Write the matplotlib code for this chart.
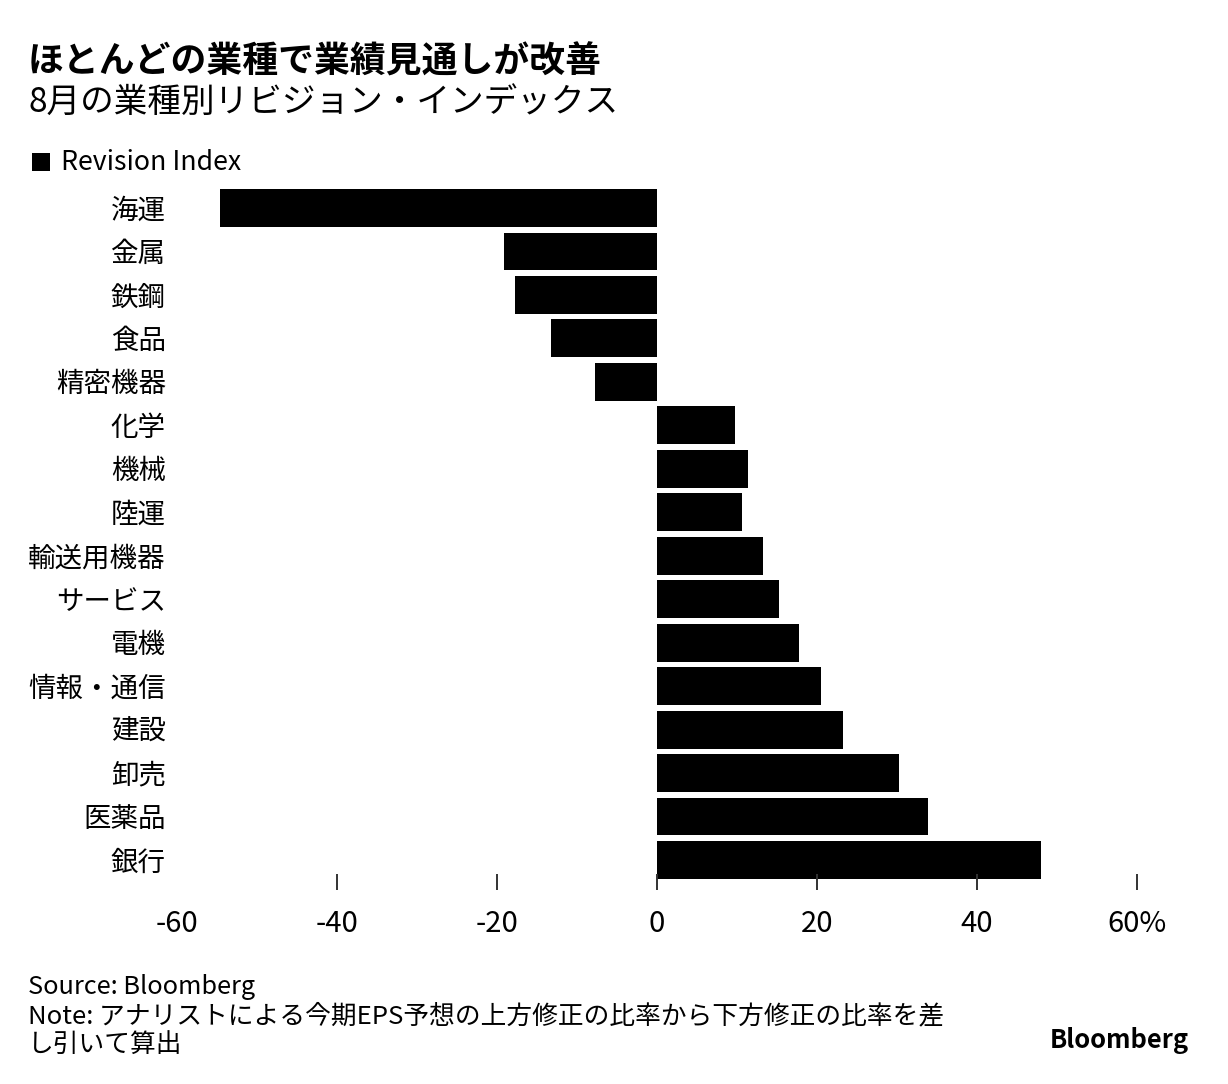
import matplotlib
matplotlib.use("Agg")
import matplotlib.pyplot as plt
from matplotlib.patches import Rectangle

plt.rcParams["font.family"] = ["Noto Sans CJK JP", "DejaVu Sans"]

# data
sectors = [
    "海運", "金属", "鉄鋼", "食品", "精密機器", "化学", "機械", "陸運",
    "輸送用機器", "サービス", "電機", "情報・通信", "建設", "卸売", "医薬品", "銀行",
]
revision_index = [
    -54.6, -19.1, -17.7, -13.2, -7.7, 9.8, 11.4, 10.6,
    13.2, 15.2, 17.7, 20.5, 23.3, 30.3, 33.9, 48.0,
]
x_ticks = [-60, -40, -20, 0, 20, 40, 60]
x_tick_labels = ["-60", "-40", "-20", "0", "20", "40", "60%"]

W, H = 1228, 1084
fig = plt.figure(figsize=(W / 100, H / 100), dpi=100)


def fx(px):
    return px / W


def fy(py):
    return 1 - py / H


ax_left, ax_right = 177, 1137
ax_top, ax_bottom = 186.3, 881.7
ax = fig.add_axes([fx(ax_left), fy(ax_bottom), (ax_right - ax_left) / W, (ax_bottom - ax_top) / H])

ypos = list(range(len(sectors)))
ax.barh(ypos, revision_index, height=0.874, color="black", edgecolor="none")
ax.set_xlim(-60, 60)
ax.set_ylim(len(sectors) - 0.5, -0.5)

ax.set_yticks(ypos)
ax.set_yticklabels(sectors, fontsize=19.8)
ax.tick_params(axis="y", length=0, pad=8)

ax.set_xticks(x_ticks)
ax.set_xticklabels(x_tick_labels, fontsize=21)
ax.tick_params(axis="x", direction="inout", length=11, width=1.4, color="#333333", pad=14)
# no tick mark under -60 in the original
ax.xaxis.get_major_ticks()[0].tick1line.set_visible(False)

for side in ["top", "right", "bottom", "left"]:
    ax.spines[side].set_visible(False)

# titles
fig.text(fx(28), fy(62), "ほとんどの業種で業績見通しが改善", fontsize=25.8, weight="bold", va="center", ha="left")
fig.text(fx(28), fy(103), "8月の業種別リビジョン・インデックス", fontsize=24.2, va="center", ha="left")

# legend
fig.patches.append(Rectangle((fx(32), fy(171)), 18 / W, 18 / H, transform=fig.transFigure,
                             facecolor="black", edgecolor="none"))
fig.text(fx(61), fy(163), "Revision Index", fontsize=19.2, va="center", ha="left")

# footer
fig.text(fx(28), fy(987), "Source: Bloomberg", fontsize=18.2, va="center", ha="left")
fig.text(fx(28), fy(1016),
         "Note: アナリストによる今期EPS予想の上方修正の比率から下方修正の比率を差",
         fontsize=18.5, va="center", ha="left")
fig.text(fx(28), fy(1045), "し引いて算出", fontsize=18.5, va="center", ha="left")
fig.text(fx(1189), fy(1040), "Bloomberg", fontsize=18.3, weight="bold", va="center", ha="right")

fig.savefig("out.png", dpi=100, facecolor="white")
plt.close(fig)
